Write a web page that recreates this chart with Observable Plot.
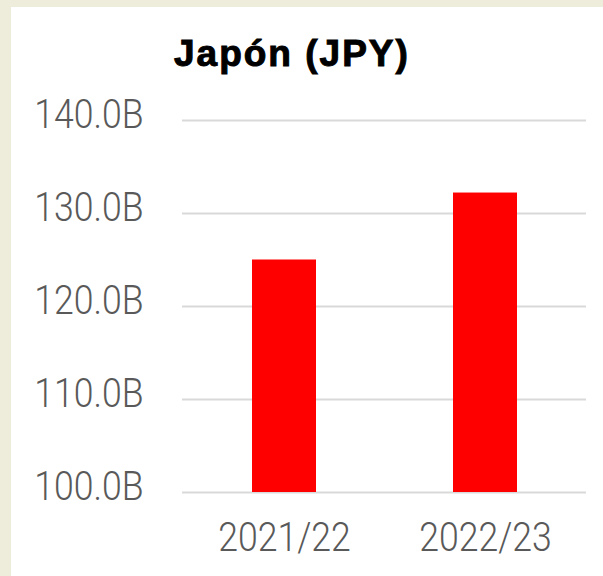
<!DOCTYPE html>
<html>
<head>
<meta charset="utf-8">
<script src="https://cdn.jsdelivr.net/npm/d3@7"></script>
<script src="https://cdn.jsdelivr.net/npm/@observablehq/plot@0.6"></script>
<style>
  html, body { margin: 0; padding: 0; background: #eeecda; }
  #panel { position: absolute; left: 11px; top: 7px; width: 592px; height: 569px; background: #ffffff; overflow: hidden; }
  #title { box-sizing: border-box; height: 80px; padding-top: 28px; padding-left: 163px;
           font-family: "Liberation Sans", Arial, sans-serif; font-weight: bold; font-size: 37px; line-height: 37px;
           letter-spacing: 2px; color: #000; -webkit-text-stroke: 1px #000; white-space: nowrap; }
  svg { display: block; }
</style>
</head>
<body>
<div id="panel">
  <div id="title">Japón (JPY)</div>
  <div id="chart"></div>
</div>
<script>
const categories = ["2021/22", "2022/23"];
const values = [125.0, 132.2];          // billions JPY
const yTicks = [100, 110, 120, 130, 140];
const tickLabel = d => d.toFixed(1) + "B";

const data = categories.map((c, i) => ({category: c, value: values[i]}));

const chart = Plot.plot({
  width: 592,
  height: 489,
  marginLeft: 171,
  marginRight: 17,
  marginTop: 33,
  marginBottom: 84,
  style: {fontFamily: "Roboto, sans-serif", fontWeight: 300, background: "transparent"},
  x: {domain: categories, paddingInner: 0.683, paddingOuter: 0.3416, label: null},
  y: {domain: [yTicks[0], yTicks[yTicks.length - 1]], label: null},
  marks: [
    Plot.ruleY(yTicks, {stroke: "#d9d9d9", strokeWidth: 2}),
    Plot.barY(data, {x: "category", y: "value", fill: "#ff0000", clip: true}),
    Plot.axisY(yTicks, {tickSize: 0, tickPadding: 39, fontSize: 40, fill: "#595959", tickFormat: tickLabel, dy: -5, label: null}),
    Plot.axisX({tickSize: 0, tickPadding: 30, fontSize: 40, fill: "#595959", label: null})
  ]
});
document.getElementById("chart").appendChild(chart);

// narrow the tick labels horizontally to match the reference's condensed face
const sx = 0.89;
chart.querySelectorAll('g[aria-label$="tick label"] text').forEach(t => {
  const tr = t.getAttribute("transform");
  if (tr) {
    t.setAttribute("transform", tr + ` scale(${sx},1)`);
  } else {
    const x = +(t.getAttribute("x") || 0), y = +(t.getAttribute("y") || 0);
    t.removeAttribute("x"); t.removeAttribute("y");
    t.setAttribute("transform", `translate(${x},${y}) scale(${sx},1)`);
  }
});
</script>
</body>
</html>
